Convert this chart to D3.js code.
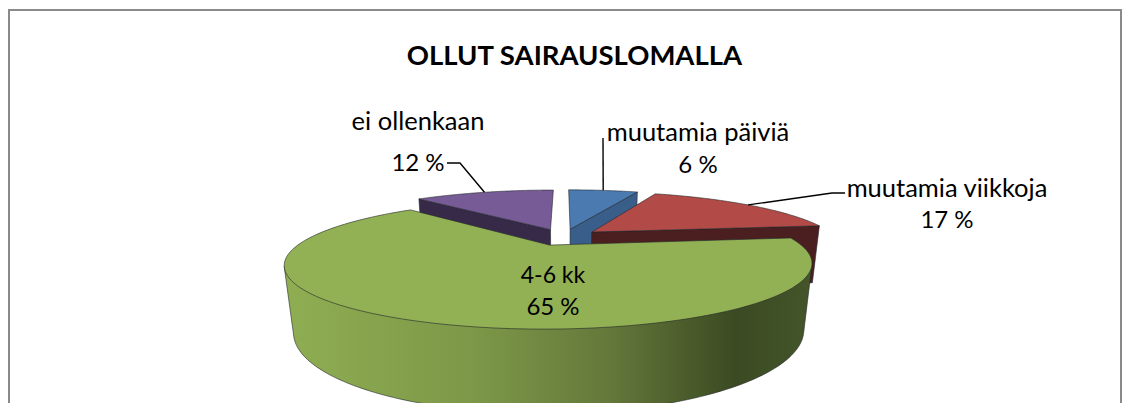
<!DOCTYPE html>
<html>
<head>
<meta charset="utf-8">
<script src="https://cdn.jsdelivr.net/npm/d3@7"></script>
<style>
html,body{margin:0;padding:0;background:#fff;overflow:hidden}
svg{display:block}
text{font-family:Lato,"Open Sans",sans-serif;fill:#000}
</style>
</head>
<body>
<svg id="c" width="1122" height="403"></svg>
<script>
const title = "OLLUT SAIRAUSLOMALLA";
const categories = ["muutamia päiviä", "muutamia viikkoja", "4-6 kk", "ei ollenkaan"];
const percents = [6, 17, 65, 12];
const topColors = ["#4a7ab0", "#b24a47", "#92b054", "#775b96"];
const sideColors = ["#395e8a", "#4b1f20", "#5f7336", "#362a48"];
const rimStops = [[0, "#8fae52"], [0.36, "#7d9848"], [0.62, "#64783a"], [0.86, "#3b4a22"], [1, "#44552a"]];

const svg = d3.select("#c");

// frame
svg.append("rect").attr("x", 9).attr("y", 10).attr("width", 1112).attr("height", 430)
  .attr("fill", "#fff").attr("stroke", "#8a8a8a").attr("stroke-width", 2);

svg.append("text").attr("x", 574.5).attr("y", 65).attr("text-anchor", "middle")
  .attr("font-size", 27.5).attr("font-weight", 700).text(title);

// projection of the tilted, extruded disc
const view = {x0: 563.5, y0: 237, A: 245, B: 54.9, p: 0.292, D: 62, q: 0.03, explode: 0.15};
function project(X, Y, z) {
  const w = 1 + view.p * Y + view.q * z;
  return [view.x0 + view.A * X / w, view.y0 + (-view.B * Y + view.D * z) / w];
}
const slices = d3.pie().sort(null).value(d => d)(percents).map((s, i) => {
  const mid = (s.startAngle + s.endAngle) / 2;
  // the large front slice sits slightly smaller and further left in the picture
  const big = i === 2;
  return {...s, i, mid, R: big ? 0.985 : 1,
    ox: Math.sin(mid) * view.explode - (big ? 0.004 : 0), oy: Math.cos(mid) * view.explode};
});
const pt = (s, a, r, z) => project(s.ox + r * s.R * Math.sin(a), s.oy + r * s.R * Math.cos(a), z);
const arcPts = (s, z) => d3.range(0, 161).map(k => pt(s, s.startAngle + (s.endAngle - s.startAngle) * k / 160, 1, z));
const line = d3.line();
const closed = pts => line(pts) + "Z";

const defs = svg.append("defs");
const grad = defs.append("linearGradient").attr("id", "rim").attr("gradientUnits", "userSpaceOnUse")
  .attr("x1", 284).attr("x2", 810).attr("y1", 0).attr("y2", 0);
grad.selectAll("stop").data(rimStops).join("stop")
  .attr("offset", d => d[0]).attr("stop-color", d => d[1]);

const edge = "#22262a";
function face(pts, fill) {
  svg.append("path").attr("d", closed(pts)).attr("fill", fill)
    .attr("stroke", edge).attr("stroke-opacity", .75).attr("stroke-width", .8).attr("stroke-linejoin", "round");
}
function radial(s, a) {
  return [pt(s, a, 0, 0), pt(s, a, 1, 0), pt(s, a, 1, 1), pt(s, a, 0, 1)];
}

const [blue, red, green, purple] = slices;
// back slices: dark cut faces, then tops
face(radial(purple, purple.startAngle), sideColors[3]);
face(radial(blue, blue.endAngle), sideColors[0]);
face(radial(red, red.endAngle), sideColors[1]);
[purple, blue, red].forEach(s => {
  face([pt(s, 0, 0, 0), ...arcPts(s, 0)], topColors[s.i]);
});
// front slice: outer wall between the left and right silhouettes, then top
const topArc = arcPts(green, 0), botArc = arcPts(green, 1);
const iR = d3.greatestIndex(topArc, d => d[0]), iL = d3.leastIndex(topArc, d => d[0]);
const wall = d3.polygonHull([...topArc.slice(iR, iL + 1), ...botArc.slice(iR, iL + 1)]);
face(wall, "url(#rim)");
face([pt(green, 0, 0, 0), ...topArc], topColors[2]);

// leader lines start on the rim at each slice's mid angle
const leaders = {0: [[603, 138]], 1: [[832, 193], [845, 193]], 3: [[460, 163], [447, 163]]};
Object.keys(leaders).forEach(k => {
  const s = slices[k];
  svg.append("path").attr("d", line([pt(s, s.mid, 1, 0), ...leaders[k]]))
    .attr("fill", "none").attr("stroke", "#000").attr("stroke-width", 1.4);
});

// labels
const labelPos = [[698, 141, 173], [947, 197, 228], [553, 283, 315], [418, 130, 171]];
slices.forEach(s => {
  const [x, y1, y2] = labelPos[s.i];
  const t = svg.append("text").attr("text-anchor", "middle");
  t.append("tspan").attr("x", x).attr("y", y1).attr("font-size", s.i === 2 ? 23 : 25.5).text(categories[s.i]);
  t.append("tspan").attr("x", x).attr("y", y2).attr("font-size", 24).text(percents[s.i] + " %");
});
</script>
</body>
</html>
